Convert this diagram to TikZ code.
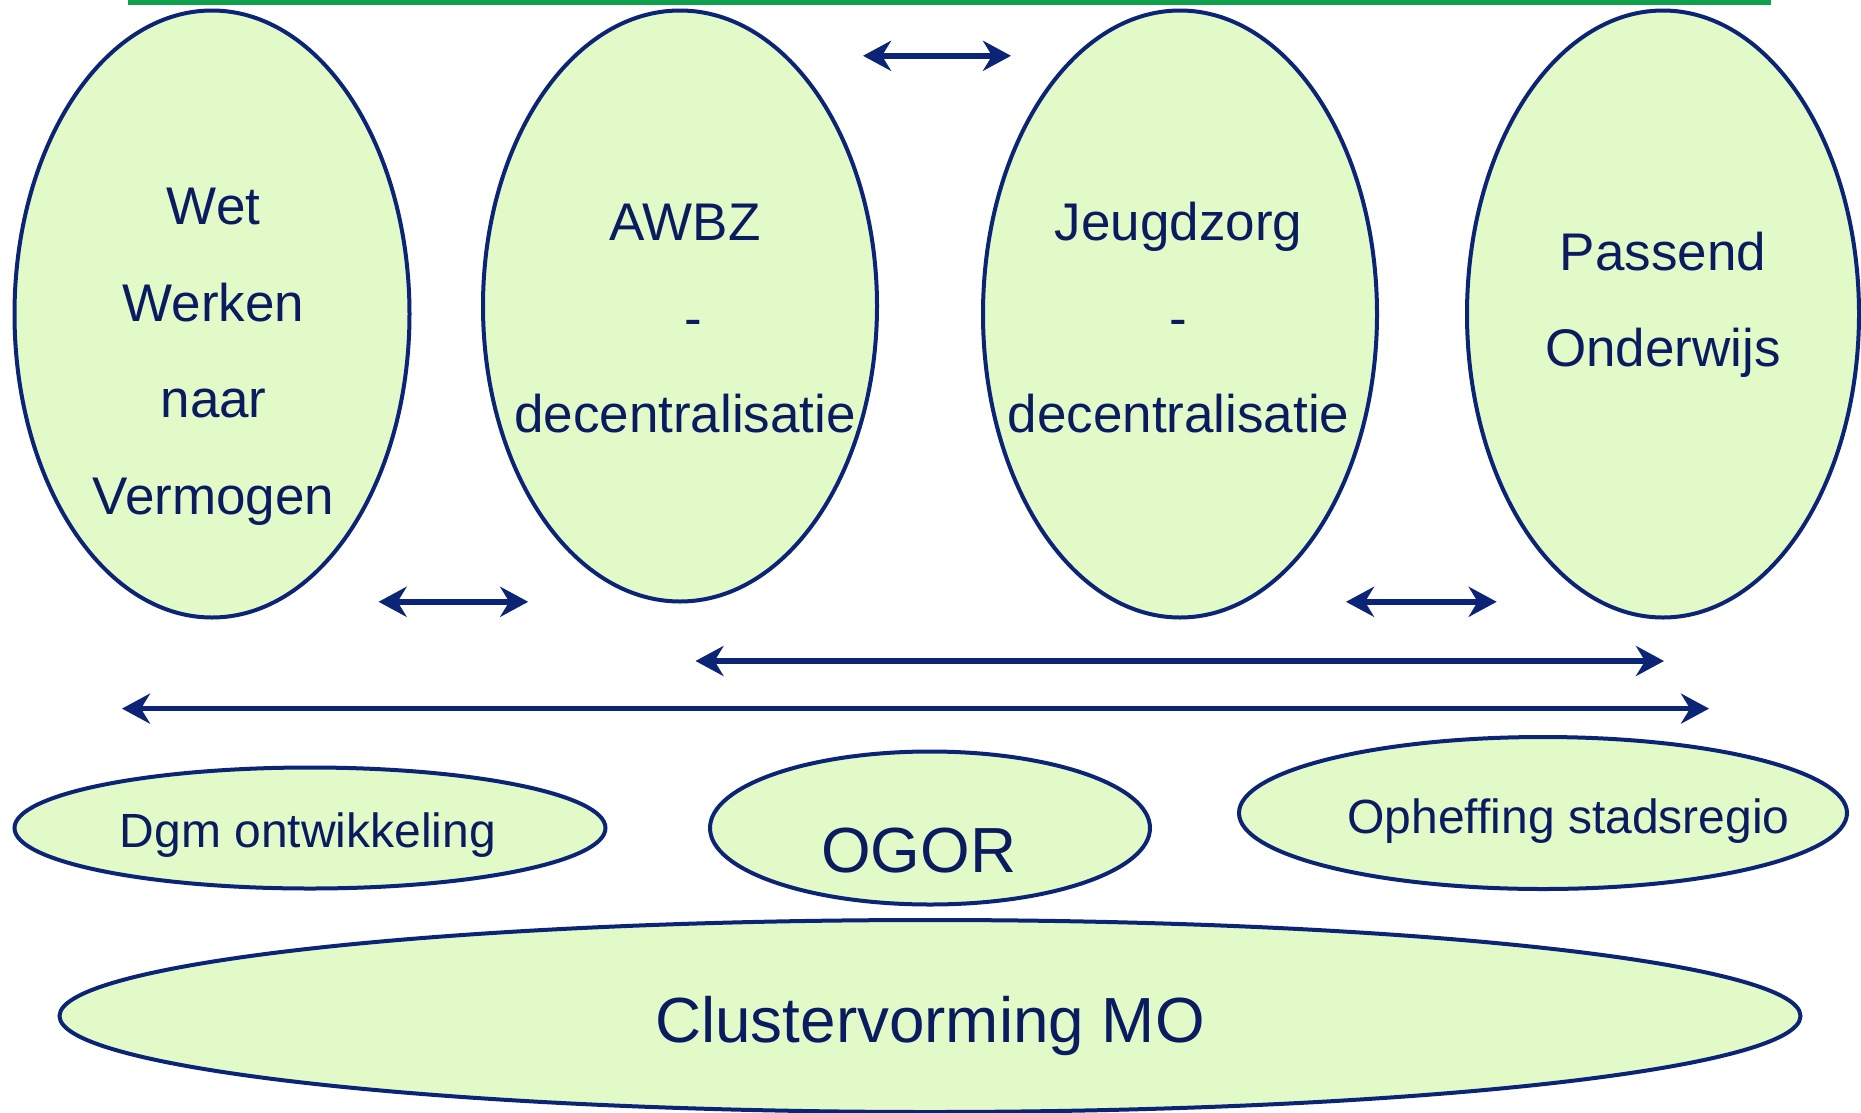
\documentclass[tikz,border=0pt]{standalone}
\usepackage{fontspec}
\setmainfont{Liberation Sans}
\usetikzlibrary{shapes.geometric,arrows.meta}
\definecolor{fillgreen}{RGB}{226,250,200}
\definecolor{navy}{RGB}{12,36,118}
\definecolor{textnavy}{RGB}{10,28,95}
\definecolor{barGreen}{RGB}{14,160,75}
\tikzset{
  oval/.style={ellipse, draw=navy, fill=fillgreen, line width=4pt, inner sep=0pt},
  lbl/.style={text=textnavy, anchor=base, inner sep=0pt},
  bigtxt/.style={lbl, font=\fontsize{53}{60}\selectfont},
  midtxt/.style={lbl, font=\fontsize{48}{55}\selectfont},
  hugetxt/.style={lbl, font=\fontsize{63.8}{70}\selectfont},
  link/.style={draw=navy, line width=5.5pt,
    {Stealth[length=28pt,width=30pt,inset=9pt]}-{Stealth[length=28pt,width=30pt,inset=9pt]}}
}
\begin{document}
\begin{tikzpicture}[x=1pt,y=-1pt]
\clip (0,0) rectangle (1861,1112);
\fill[white] (0,0) rectangle (1861,1112);
% top bar
\fill[barGreen] (128,0) rectangle (1771,5);

% large ellipses
\node[oval, minimum width=395pt, minimum height=607pt] (wet) at (212,314) {};
\node[oval, minimum width=394pt, minimum height=591pt] (awbz) at (680,306) {};
\node[oval, minimum width=394pt, minimum height=607pt] (jeugd) at (1180,314) {};
\node[oval, minimum width=392pt, minimum height=607pt] (pass) at (1663,314) {};

% bottom ellipses
\node[oval, minimum width=591pt, minimum height=121pt] (dgm) at (310,828) {};
\node[oval, minimum width=440pt, minimum height=153pt] (ogor) at (930,828) {};
\node[oval, minimum width=608pt, minimum height=152pt] (oph) at (1543,813) {};
\node[oval, minimum width=1741pt, minimum height=192pt] (clu) at (930,1016) {};

% texts
\node[bigtxt] (wetA) at (213.6,224.6) {Wet};
\node[bigtxt] (wetB) at (213.6,321.1) {Werken};
\node[bigtxt] (wetC) at (213.6,417.6) {naar};
\node[bigtxt] (wetD) at (213.6,514.1) {Vermogen};

\node[bigtxt] (awA) at (685,240.6) {AWBZ};
\node[bigtxt] (awB) at (693,336.6) {-};
\node[bigtxt] (awC) at (685,432.6) {decentralisatie};

\node[bigtxt] (jzA) at (1178.6,240.6) {Jeugdzorg};
\node[bigtxt] (jzB) at (1178.6,336.6) {-};
\node[bigtxt] (jzC) at (1178.6,432.6) {decentralisatie};

\node[bigtxt] (paA) at (1663,270.6) {Passend};
\node[bigtxt] (paB) at (1663,366.6) {Onderwijs};

\node[midtxt] (dgmT) at (308,847.6) {Dgm ontwikkeling};
\node[hugetxt] (ogorT) at (918.7,872.3) {OGOR};
\node[midtxt] (ophT) at (1568.5,833.2) {Opheffing stadsregio};
\node[hugetxt] (cluT) at (930,1042.1) {Clustervorming MO};

% arrow end points
\coordinate (t1) at (863,55.8);   \coordinate (t2) at (1011,55.8);
\coordinate (l1) at (378.6,601.8); \coordinate (l2) at (528.2,601.8);
\coordinate (r1) at (1346,601.8);  \coordinate (r2) at (1496.7,601.8);
\coordinate (m1) at (695.5,661);   \coordinate (m2) at (1664,661);
\coordinate (b1) at (122,708.6);   \coordinate (b2) at (1709,708.6);

\draw[link] (t1) -- (t2);
\draw[link] (l1) -- (l2);
\draw[link] (r1) -- (r2);
\draw[link] (m1) -- (m2);
\draw[link] (b1) -- (b2);
\end{tikzpicture}
\end{document}
